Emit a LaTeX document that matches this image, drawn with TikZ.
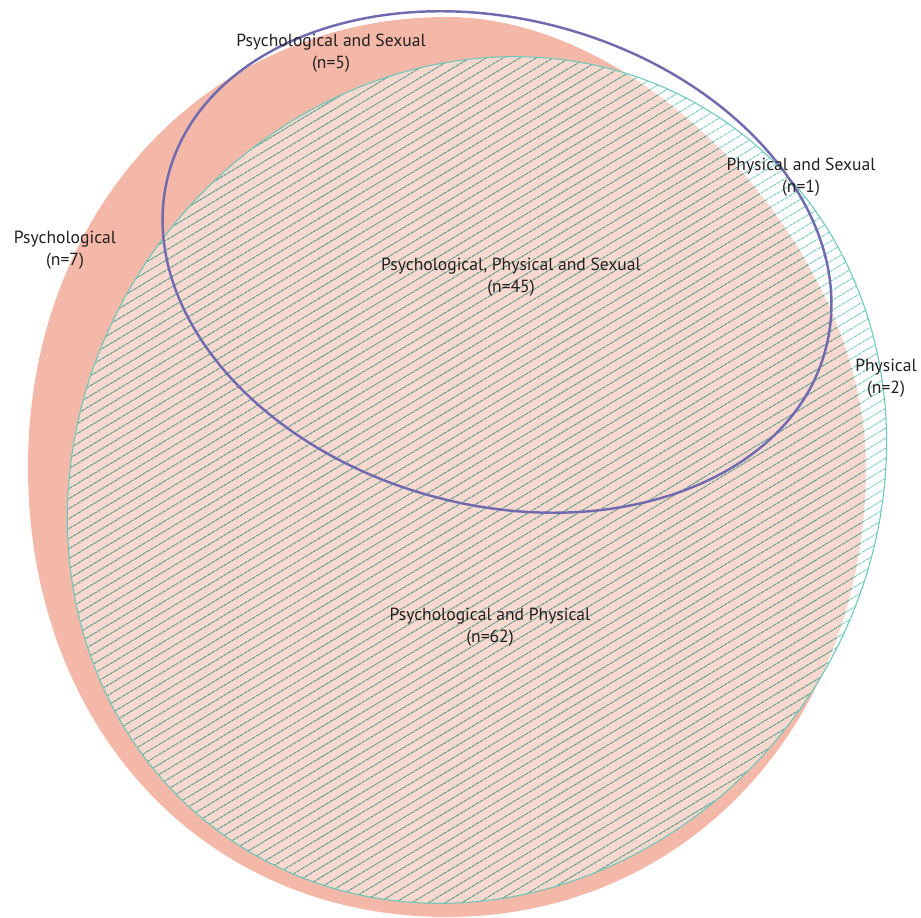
\documentclass[tikz,border=0pt]{standalone}
\usepackage{fontspec}
\setmainfont{PT Sans}
\definecolor{Salmon}{HTML}{F3B8A8}
\definecolor{Teal}{HTML}{6CC8BA}
\definecolor{Hatch}{HTML}{6E9A88}
\definecolor{Violet}{HTML}{6F6BAE}
\definecolor{Ink}{HTML}{231F20}
% outline of the Psychological set, one cubic per quadrant
\newcommand\psyshape{(447,17) .. controls (648,17) and (866,251) .. (866,467)
  .. controls (866,724) and (686,917) .. (447,917)
  .. controls (204,917) and (28,728) .. (28,467)
  .. controls (28,210) and (208,17) .. (447,17) -- cycle}

\begin{document}
\begin{tikzpicture}[x=0.02cm,y=-0.02cm,
  lbl/.style={font=\fontsize{10}{12.4}\selectfont,align=center,text=Ink,inner sep=0pt},
  hatch/.style={line width=0.45pt,dash pattern=on 2.2pt off 0.5pt}]
\useasboundingbox (0,0) rectangle (921,918);

% Psychological set.
\fill[Salmon] \psyshape;

% Physical set, hatched.
\begin{scope}
  \clip[rotate around={55:(477,480)}] (477,480) ellipse[x radius=436,y radius=396];
  \fill[white,opacity=0.45] (0,0) rectangle (921,918);
  \foreach \c in {60,70,...,1470}
    \draw[hatch,Teal] (0,\c) -- (921,\c-553);
  \clip \psyshape;
  \foreach \c in {60,70,...,1470}
    \draw[hatch,Hatch] (0,\c) -- (921,\c-553);
\end{scope}
\draw[Teal,line width=0.6pt,rotate around={55:(477,480)}]
  (477,480) ellipse[x radius=436,y radius=396];

% Sexual set.
\draw[Violet,line width=1.4pt,rotate around={-15:(497,262)}]
  (497,262) ellipse[x radius=340,y radius=243];

% Region counts.
\node[lbl] (psysex) at (331,53) {Psychological and Sexual\\(n=5)};
\node[lbl] (physex) at (801,177) {Physical and Sexual\\(n=1)};
\node[lbl] (psy) at (65,250) {Psychological\\(n=7)};
\node[lbl] (all) at (511,277) {Psychological, Physical and Sexual\\(n=45)};
\node[lbl] (phy) at (886,378) {Physical\\(n=2)};
\node[lbl] (psyphy) at (490,627) {Psychological and Physical\\(n=62)};
\end{tikzpicture}
\end{document}
